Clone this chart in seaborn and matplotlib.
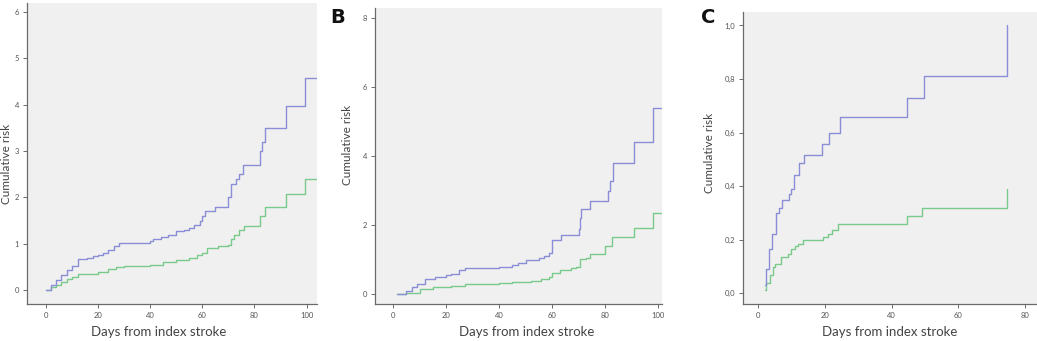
import matplotlib
matplotlib.use("Agg")
import matplotlib.pyplot as plt
import seaborn as sns
import pandas as pd

# ---- Data ----
# Panel A
a_blue_x = [0, 2, 4, 6, 8, 10, 12.5, 16, 18, 20, 22, 24, 26, 28, 40, 41, 44, 47, 50, 53, 55, 57, 59, 60, 61, 65, 70, 71, 73, 74, 75.5, 82, 83, 84, 92, 99.5, 104]
a_blue_y = [0, 0.1, 0.22, 0.33, 0.43, 0.52, 0.68, 0.7, 0.73, 0.76, 0.8, 0.86, 0.95, 1.02, 1.05, 1.1, 1.15, 1.2, 1.28, 1.3, 1.35, 1.4, 1.5, 1.6, 1.71, 1.8, 2.0, 2.3, 2.4, 2.51, 2.69, 3.0, 3.2, 3.5, 3.97, 4.58, 4.58]
a_green_x = [0, 2, 4, 6, 8, 10, 12.5, 20, 24, 27, 30, 40, 45, 50, 55, 58, 60, 62, 66, 70, 71, 72, 74, 76, 82, 84, 92, 99.5, 104]
a_green_y = [0, 0.06, 0.12, 0.18, 0.23, 0.28, 0.34, 0.4, 0.45, 0.5, 0.53, 0.55, 0.6, 0.65, 0.7, 0.75, 0.8, 0.9, 0.95, 0.98, 1.1, 1.2, 1.29, 1.38, 1.6, 1.8, 2.07, 2.39, 2.39]

# Panel B
b_blue_x = [1.5, 5, 7, 9, 12, 16, 20, 22, 25, 27, 40, 45, 47, 50, 55, 57, 59, 60, 63.5, 70, 70.5, 71, 74.5, 81, 82, 83, 91, 98, 101]
b_blue_y = [0, 0.1, 0.2, 0.3, 0.45, 0.5, 0.55, 0.6, 0.7, 0.75, 0.8, 0.85, 0.9, 1.0, 1.05, 1.1, 1.2, 1.57, 1.73, 1.9, 2.2, 2.46, 2.72, 3.0, 3.3, 3.82, 4.42, 5.4, 5.4]
b_green_x = [1.5, 5, 10, 15, 22, 27, 40, 45, 52, 56, 59, 60, 63, 67, 69, 70.5, 73, 74.5, 80, 82.5, 91, 98, 101]
b_green_y = [0, 0.05, 0.15, 0.2, 0.25, 0.3, 0.32, 0.35, 0.4, 0.45, 0.5, 0.61, 0.7, 0.75, 0.8, 1.01, 1.05, 1.17, 1.4, 1.65, 1.92, 2.35, 2.35]

# Panel C
c_blue_x = [2, 2.3, 3.2, 4.2, 5.4, 6.2, 7.2, 9.2, 10, 10.7, 12.4, 13.7, 19.1, 21.3, 24.6, 44.6, 49.6, 74.5]
c_blue_y = [0.03, 0.09, 0.166, 0.22, 0.30, 0.32, 0.35, 0.37, 0.39, 0.44, 0.485, 0.516, 0.556, 0.60, 0.657, 0.73, 0.81, 1.0]
c_green_x = [2, 2.3, 3.5, 4.5, 5.2, 7, 9, 10, 11, 12, 13.5, 19.5, 21, 22, 24, 44.5, 49, 74.5]
c_green_y = [0.0125, 0.04, 0.07, 0.10, 0.11, 0.135, 0.145, 0.166, 0.175, 0.185, 0.2, 0.21, 0.22, 0.2375, 0.26, 0.2875, 0.32, 0.39]

a_yticks = [0, 1, 2, 3, 4, 5, 6]
b_yticks = [0, 2, 4, 6, 8]
c_yticks = [0.0, 0.2, 0.4, 0.6, 0.8, 1.0]
c_yticklabels = ["0,0", "0,2", "0,4", "0,6", "0,8", "1,0"]
x_ticks_ab = [0, 20, 40, 60, 80, 100]
x_ticks_c = [0, 20, 40, 60, 80]

xlabel = "Days from index stroke"
ylabel = "Cumulative risk"

BLUE = "#8a8ed6"
GREEN = "#7acb8a"
BG = "#f0f0f0"

sns.set_theme(style="white")
plt.rcParams["font.family"] = ["Lato", "DejaVu Sans"]

fig = plt.figure(figsize=(10.37, 3.41), dpi=100)
fig.patch.set_facecolor("white")

axA = fig.add_axes([0.026, 0.1085, 0.2797, 0.883])
axB = fig.add_axes([0.3616, 0.1085, 0.2768, 0.868])
axC = fig.add_axes([0.7165, 0.1085, 0.2835, 0.856])

panels = [
    (axA, a_blue_x, a_blue_y, a_green_x, a_green_y, (-7.2, 104), (-0.3, 6.2), a_yticks, [str(t) for t in a_yticks], x_ticks_ab, (-0.052, 0.465), (0.455, -0.074)),
    (axB, b_blue_x, b_blue_y, b_green_x, b_green_y, (-6.8, 101.5), (-0.28, 8.3), b_yticks, [str(t) for t in b_yticks], x_ticks_ab, (-0.077, 0.537), (0.53, -0.074)),
    (axC, c_blue_x, c_blue_y, c_green_x, c_green_y, (-4.5, 83.5), (-0.04, 1.05), c_yticks, c_yticklabels, x_ticks_c, (-0.095, 0.517), (0.5, -0.076)),
]

for ax, bx, by, gx, gy, xlim, ylim, yt, ytl, xt, ylc, xlc in panels:
    ax.set_facecolor(BG)
    dfb = pd.DataFrame({"x": bx, "y": by})
    dfg = pd.DataFrame({"x": gx, "y": gy})
    sns.lineplot(data=dfg, x="x", y="y", ax=ax, color=GREEN, lw=1.0, drawstyle="steps-post", estimator=None)
    sns.lineplot(data=dfb, x="x", y="y", ax=ax, color=BLUE, lw=1.0, drawstyle="steps-post", estimator=None)
    ax.set_xlim(*xlim)
    ax.set_ylim(*ylim)
    ax.set_yticks(yt)
    ax.set_yticklabels(ytl)
    ax.set_xticks(xt)
    ax.set_xticklabels([str(t) for t in xt])
    for s in ["top", "right"]:
        ax.spines[s].set_visible(False)
    for s in ["left", "bottom"]:
        ax.spines[s].set_color("#6a6a6a")
        ax.spines[s].set_linewidth(0.9)
    ax.tick_params(axis="both", which="major", length=3, width=0.7, color="#6a6a6a",
                   labelsize=5.5, labelcolor="#555555", pad=2.5, direction="out",
                   bottom=True, left=True)
    ax.set_xlabel(xlabel, fontsize=9.5, color="#444444")
    ax.set_ylabel(ylabel, fontsize=8.5, color="#444444")
    ax.yaxis.set_label_coords(*ylc)
    ax.xaxis.set_label_coords(*xlc)

fig.text(330 / 1037, 1 - 23 / 341, "B", fontsize=14, fontweight="bold", color="#111111",
         family=["DejaVu Sans"], ha="left", va="baseline")
fig.text(701 / 1037, 1 - 23 / 341, "C", fontsize=14, fontweight="bold", color="#111111",
         family=["DejaVu Sans"], ha="left", va="baseline")

fig.savefig("out.png", dpi=100, facecolor="white")
